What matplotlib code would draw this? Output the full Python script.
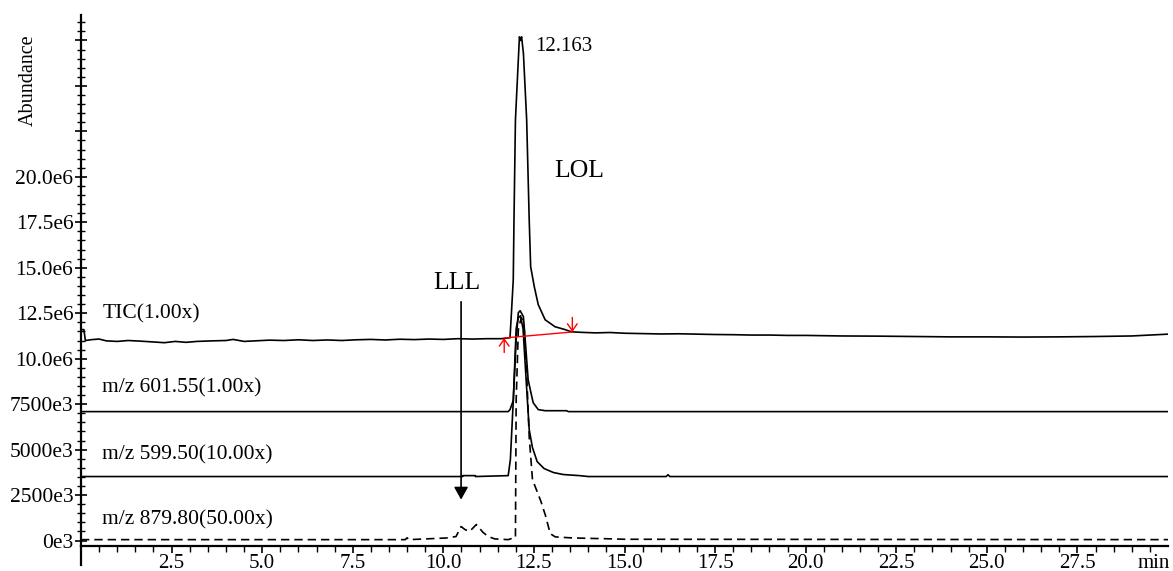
import matplotlib
matplotlib.use('Agg')
import matplotlib.pyplot as plt
from matplotlib.lines import Line2D

plt.rcParams['font.family'] = ['Liberation Serif', 'DejaVu Serif']

# retention time (min) and abundance (x1e6)
tic_time = [0.0, 0.08, 0.12, 0.3, 0.5, 0.7, 1.0, 1.3, 1.6, 2.0, 2.3, 2.6, 2.9, 3.2, 3.6, 4.0,
            4.2, 4.5, 4.8, 5.2, 5.6, 6.0, 6.4, 6.8, 7.2, 7.6, 8.0, 8.4, 8.8, 9.2, 9.6, 10.0,
            10.4, 10.8, 11.2, 11.6, 11.84, 11.88, 11.93, 11.95, 11.99, 12.10, 12.13, 12.16,
            12.21, 12.30, 12.37, 12.41, 12.51, 12.62, 12.81, 13.08, 13.36, 13.53, 13.8, 14.2,
            14.6, 15.0, 15.5, 16.0, 16.5, 17.0, 17.5, 18.0, 18.5, 19.0, 19.5, 20.0, 21.0,
            22.0, 23.0, 24.0, 25.0, 26.0, 27.0, 28.0, 29.0, 29.5, 30.0]
tic_abund = [11.6, 11.6, 11.0, 11.05, 11.08, 10.98, 10.95, 11.0, 10.97, 10.92, 10.88, 10.95,
             10.9, 10.95, 10.98, 11.0, 11.06, 10.95, 10.98, 11.02, 11.0, 11.04, 11.0, 11.03,
             11.0, 11.04, 11.06, 11.03, 11.07, 11.05, 11.08, 11.06, 11.1, 11.08, 11.1, 11.1,
             11.15, 12.53, 14.34, 17.64, 23.13, 27.7, 27.5, 27.7, 26.8, 23.13, 17.64, 15.06,
             13.96, 12.97, 12.14, 11.76, 11.6, 11.48, 11.45, 11.42, 11.44, 11.4, 11.38, 11.36,
             11.37, 11.35, 11.33, 11.32, 11.3, 11.3, 11.28, 11.28, 11.25, 11.24, 11.22, 11.2,
             11.2, 11.19, 11.2, 11.22, 11.25, 11.3, 11.35]

mz601_time = [0.0, 11.79, 11.84, 11.93, 12.01, 12.07, 12.12, 12.15, 12.21, 12.26, 12.34,
              12.43, 12.48, 12.62, 12.81, 13.4, 13.45, 30.0]
mz601_abund = [7.09, 7.09, 7.2, 7.69, 11.04, 12.53, 12.64, 12.53, 12.31, 11.04, 8.85, 8.02,
               7.58, 7.2, 7.14, 7.14, 7.09, 7.09]

mz599_time = [0.0, 10.53, 10.54, 10.88, 10.89, 11.79, 11.85, 11.93, 12.01, 12.07, 12.13,
              12.20, 12.29, 12.37, 12.46, 12.59, 12.78, 13.04, 13.31, 13.76, 14.0, 16.15,
              16.2, 16.25, 30.0]
mz599_abund = [3.52, 3.52, 3.57, 3.57, 3.52, 3.57, 4.45, 7.69, 11.65, 12.25, 12.36, 11.65,
               8.68, 6.1, 5.11, 4.34, 3.96, 3.74, 3.63, 3.57, 3.52, 3.52, 3.62, 3.52, 3.52]

mz879_time = [0.0, 8.95, 9.0, 9.05, 10.08, 10.35, 10.49, 10.6, 10.73, 10.91, 11.1, 11.24,
              11.42, 11.79, 11.93, 11.99, 12.01, 12.07, 12.15, 12.22, 12.29, 12.37, 12.46,
              12.69, 12.82, 12.95, 13.09, 13.5, 14.0, 14.5, 15.0, 30.0]
mz879_abund = [0.05, 0.05, 0.15, 0.05, 0.14, 0.22, 0.77, 0.6, 0.51, 0.88, 0.44, 0.22, 0.09,
               0.05, 0.14, 0.16, 7.7, 11.6, 12.25, 12.03, 9.67, 5.71, 3.35, 2.17, 1.37, 0.38,
               0.2, 0.15, 0.12, 0.1, 0.07, 0.05]

trace_labels = ['TIC(1.00x)', 'm/z 601.55(1.00x)', 'm/z 599.50(10.00x)', 'm/z 879.80(50.00x)']
trace_label_y = [12.47, 8.41, 4.73, 1.15]

# integration baseline of the LOL peak (start, end)
base_time = [11.68, 13.56]
base_abund = [11.14, 11.47]

y_ticks = [0, 2.5, 5.0, 7.5, 10.0, 12.5, 15.0, 17.5, 20.0, 22.5, 25.0, 27.5]
y_ticklabels = ['0e3', '2500e3', '5000e3', '7500e3', '10.0e6', '12.5e6', '15.0e6',
                '17.5e6', '20.0e6', '', '', '']
x_ticks = [2.5, 5.0, 7.5, 10.0, 12.5, 15.0, 17.5, 20.0, 22.5, 25.0, 27.5]

fig = plt.figure(figsize=(11.73, 5.71), dpi=100)
ax = fig.add_axes([81 / 1173, 25 / 571, 1087 / 1173, 531 / 571])

ax.plot(tic_time, tic_abund, color='black', lw=1.2)
ax.plot(mz601_time, mz601_abund, color='black', lw=1.2)
ax.plot(mz599_time, mz599_abund, color='black', lw=1.2)
ax.plot(mz879_time, mz879_abund, color='black', lw=1.2, linestyle=(0, (5, 3)))

# red baseline with start/end markers
ax.plot(base_time, base_abund, color='red', lw=1.0)
ax.annotate('', xy=(base_time[0], base_abund[0]), xytext=(base_time[0], base_abund[0] - 0.8),
            arrowprops=dict(arrowstyle='->,head_length=0.5,head_width=0.35', color='red',
                            lw=1.0, shrinkA=0, shrinkB=0, mutation_scale=10))
ax.annotate('', xy=(base_time[1], base_abund[1]), xytext=(base_time[1], base_abund[1] + 0.8),
            arrowprops=dict(arrowstyle='->,head_length=0.5,head_width=0.35', color='red',
                            lw=1.0, shrinkA=0, shrinkB=0, mutation_scale=10))

# LLL marker arrow
ax.annotate('', xy=(10.49, 2.25), xytext=(10.49, 13.13),
            arrowprops=dict(arrowstyle='-|>,head_length=0.75,head_width=0.42', color='black',
                            lw=1.2, shrinkA=0, shrinkB=0, mutation_scale=10))

for lab, yy in zip(trace_labels, trace_label_y):
    ax.text(0.59, yy, lab, fontsize=15.5, ha='left', va='center')

ax.text(10.38, 14.18, 'LLL', fontsize=18.5, ha='center', va='center')
ax.text(13.75, 20.3, 'LOL', fontsize=18.5, ha='center', va='center')
ax.text(12.54, 27.15, '12.163', fontsize=15, ha='left', va='center')

ax.set_xlim(0, 30.0)
ax.set_ylim(-0.3, 28.9)

ax.set_xticks(x_ticks)
ax.set_xticklabels(['%.1f' % v for v in x_ticks])
ax.set_xticks([i * 0.5 for i in range(1, 60)], minor=True)
ax.set_yticks(y_ticks)
ax.set_yticklabels(y_ticklabels)
ax.set_yticks([i * 0.5 for i in range(0, 58)], minor=True)

ax.tick_params(axis='x', which='major', direction='out', length=5, width=1.2, pad=1, labelsize=15)
ax.tick_params(axis='x', which='minor', direction='out', length=4, width=1.0)
ax.tick_params(axis='y', which='major', direction='inout', length=9, width=1.2, pad=1, labelsize=15.5)
ax.tick_params(axis='y', which='minor', direction='inout', length=6, width=1.0)

for s in ['top', 'right']:
    ax.spines[s].set_visible(False)
for s in ['left', 'bottom']:
    ax.spines[s].set_linewidth(1.6)

# left axis runs a little below the time axis
ax.add_line(Line2D([0, 0], [0, -0.035], transform=ax.transAxes, color='black', lw=1.6,
                   clip_on=False))

ax.annotate('min', xy=(29.6, 0), xycoords=ax.get_xaxis_transform(), xytext=(0, -6),
            textcoords='offset points', ha='center', va='top', fontsize=15)

fig.text(28 / 1173, 1 - 80 / 571, 'Abundance', rotation=90, ha='center', va='center',
         fontsize=14.5)

fig.savefig('out.png', dpi=100)
